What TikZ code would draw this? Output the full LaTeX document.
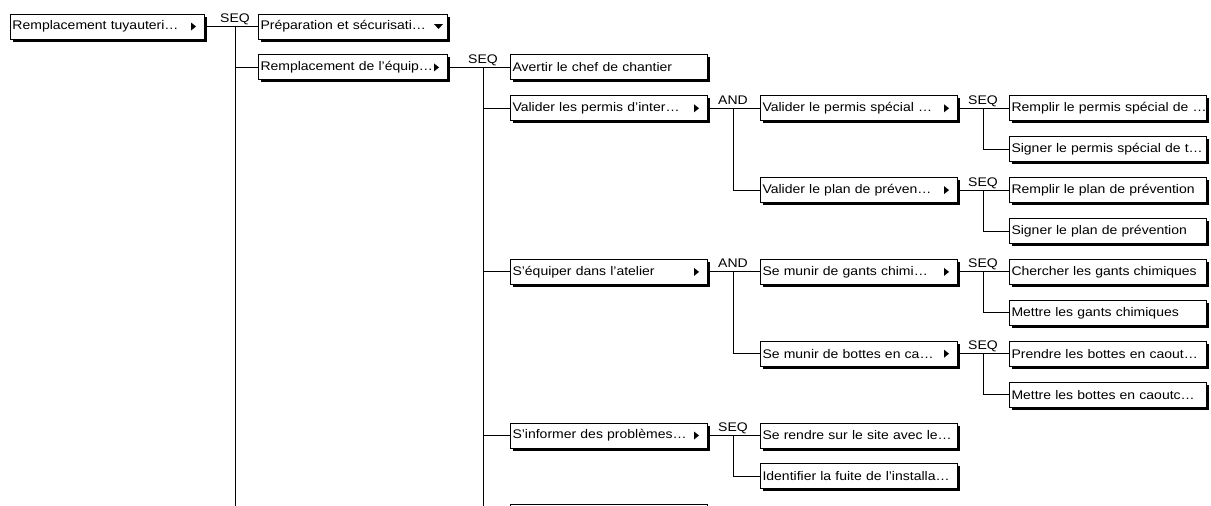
\documentclass[tikz,border=0pt]{standalone}
\usepackage{fontspec}
\setmainfont[FakeStretch=1.12]{Liberation Sans}
\usetikzlibrary{positioning,shadows,calc}
\definecolor{bordercolor}{RGB}{0,0,0}
\definecolor{boxcolor}{RGB}{255,255,255}
\definecolor{shadowcolor}{RGB}{0,0,0}
\tikzset{
    task/.style={
        rectangle,
        draw=bordercolor,
        fill=boxcolor,
        line width=1pt,
        text width=193pt,
        minimum height=25pt,
        inner xsep=2pt,
        inner ysep=0pt,
        align=left,
        anchor=west,
        font=\fontsize{12.5}{14}\selectfont,
        execute at begin node={\hbox to 190pt\bgroup},
        execute at end node={\hfil\egroup},
        drop shadow={shadow xshift=2.5pt, shadow yshift=-2.5pt, fill=shadowcolor, opacity=1}
    },
    subarrow/.style={fill=bordercolor},
    link/.style={draw=bordercolor, line width=1pt},
    oplabel/.style={anchor=base, yshift=4pt, inner sep=0pt, font=\fontsize{12.5}{14}\selectfont}
}

\begin{document}
\begin{tikzpicture}[x=1pt, y=-1pt]
    \useasboundingbox (0,0) rectangle (1211,506);
    \clip (0,0) rectangle (1211,506);

    % Level 1
    \node[task, text width=190pt] (root) at (10,26.5) {Remplacement tuyauteri…};

    % Level 2
    \node[task, text width=185pt] (prep) at (258,26.5) {Préparation et sécurisati…};
    \node[task, text width=185pt] (repl) at (258,67.4) {Remplacement de l'équip…};

    % Level 3
    \node[task] (avert) at (510,67.4) {Avertir le chef de chantier};
    \node[task] (valid) at (510,108.3) {Valider les permis d'inter…};
    \node[task] (equip) at (510,271.9) {S'équiper dans l'atelier};
    \node[task] (info) at (510,435.5) {S'informer des problèmes…};
    \node[task] (more) at (510,517.3) {};

    % Level 4
    \node[task] (vperm) at (760,108.3) {Valider le permis spécial …};
    \node[task] (vplan) at (760,190.1) {Valider le plan de préven…};
    \node[task] (gants) at (760,271.9) {Se munir de gants chimi…};
    \node[task] (bottes) at (760,353.7) {Se munir de bottes en ca…};
    \node[task] (rendre) at (760,435.5) {Se rendre sur le site avec le…};
    \node[task] (fuite) at (760,476.4) {Identifier la fuite de l'installa…};

    % Level 5
    \node[task] (rperm) at (1009,108.3) {Remplir le permis spécial de …};
    \node[task] (sperm) at (1009,149.2) {Signer le permis spécial de t…};
    \node[task] (rplan) at (1009,190.1) {Remplir le plan de prévention};
    \node[task] (splan) at (1009,231.0) {Signer le plan de prévention};
    \node[task] (cgants) at (1009,271.9) {Chercher les gants chimiques};
    \node[task] (mgants) at (1009,312.8) {Mettre les gants chimiques};
    \node[task] (pbottes) at (1009,353.7) {Prendre les bottes en caout…};
    \node[task] (mbottes) at (1009,394.6) {Mettre les bottes en caoutc…};

    % Expand markers
    \foreach \n in {root,repl,valid,equip,info,vperm,vplan,gants,bottes}
        \fill[subarrow] ([xshift=-9pt]\n.east) -- ++(-5pt,4pt) -- ++(0pt,-8pt) -- cycle;
    \fill[subarrow] ([xshift=-5pt,yshift=2.5pt]prep.east) -- ++(-9pt,0pt) -- ++(4.5pt,-5pt) -- cycle;

    % Junctions
    \coordinate (j0) at (235,26.5);
    \coordinate (j0end) at (235,520);
    \coordinate (j1) at (483,67.4);
    \coordinate (j1end) at (483,520);
    \coordinate (j2) at (733,108.3);
    \coordinate (j3) at (733,271.9);
    \coordinate (j4) at (733,435.5);
    \coordinate (j5) at (983,108.3);
    \coordinate (j6) at (983,190.1);
    \coordinate (j7) at (983,271.9);
    \coordinate (j8) at (983,353.7);

    % Connectors
    \draw[link] (root) -- (prep);
    \draw[link] (j0) -- (j0end);
    \draw[link] (j0) |- (repl);
    \draw[link] (repl) -- (avert);
    \draw[link] (j1) -- (j1end);
    \draw[link] (j1) |- (valid);
    \draw[link] (j1) |- (equip);
    \draw[link] (j1) |- (info);
    \draw[link] (j1) |- (more);
    \draw[link] (valid) -- (vperm);
    \draw[link] (j2) |- (vplan);
    \draw[link] (equip) -- (gants);
    \draw[link] (j3) |- (bottes);
    \draw[link] (info) -- (rendre);
    \draw[link] (j4) |- (fuite);
    \draw[link] (vperm) -- (rperm);
    \draw[link] (j5) |- (sperm);
    \draw[link] (vplan) -- (rplan);
    \draw[link] (j6) |- (splan);
    \draw[link] (gants) -- (cgants);
    \draw[link] (j7) |- (mgants);
    \draw[link] (bottes) -- (pbottes);
    \draw[link] (j8) |- (mbottes);

    % Operators
    \node[oplabel] (op0) at (j0) {SEQ};
    \node[oplabel] (op1) at (j1) {SEQ};
    \node[oplabel] (op2) at (j2) {AND};
    \node[oplabel] (op3) at (j3) {AND};
    \node[oplabel] (op4) at (j4) {SEQ};
    \node[oplabel] (op5) at (j5) {SEQ};
    \node[oplabel] (op6) at (j6) {SEQ};
    \node[oplabel] (op7) at (j7) {SEQ};
    \node[oplabel] (op8) at (j8) {SEQ};
\end{tikzpicture}
\end{document}
